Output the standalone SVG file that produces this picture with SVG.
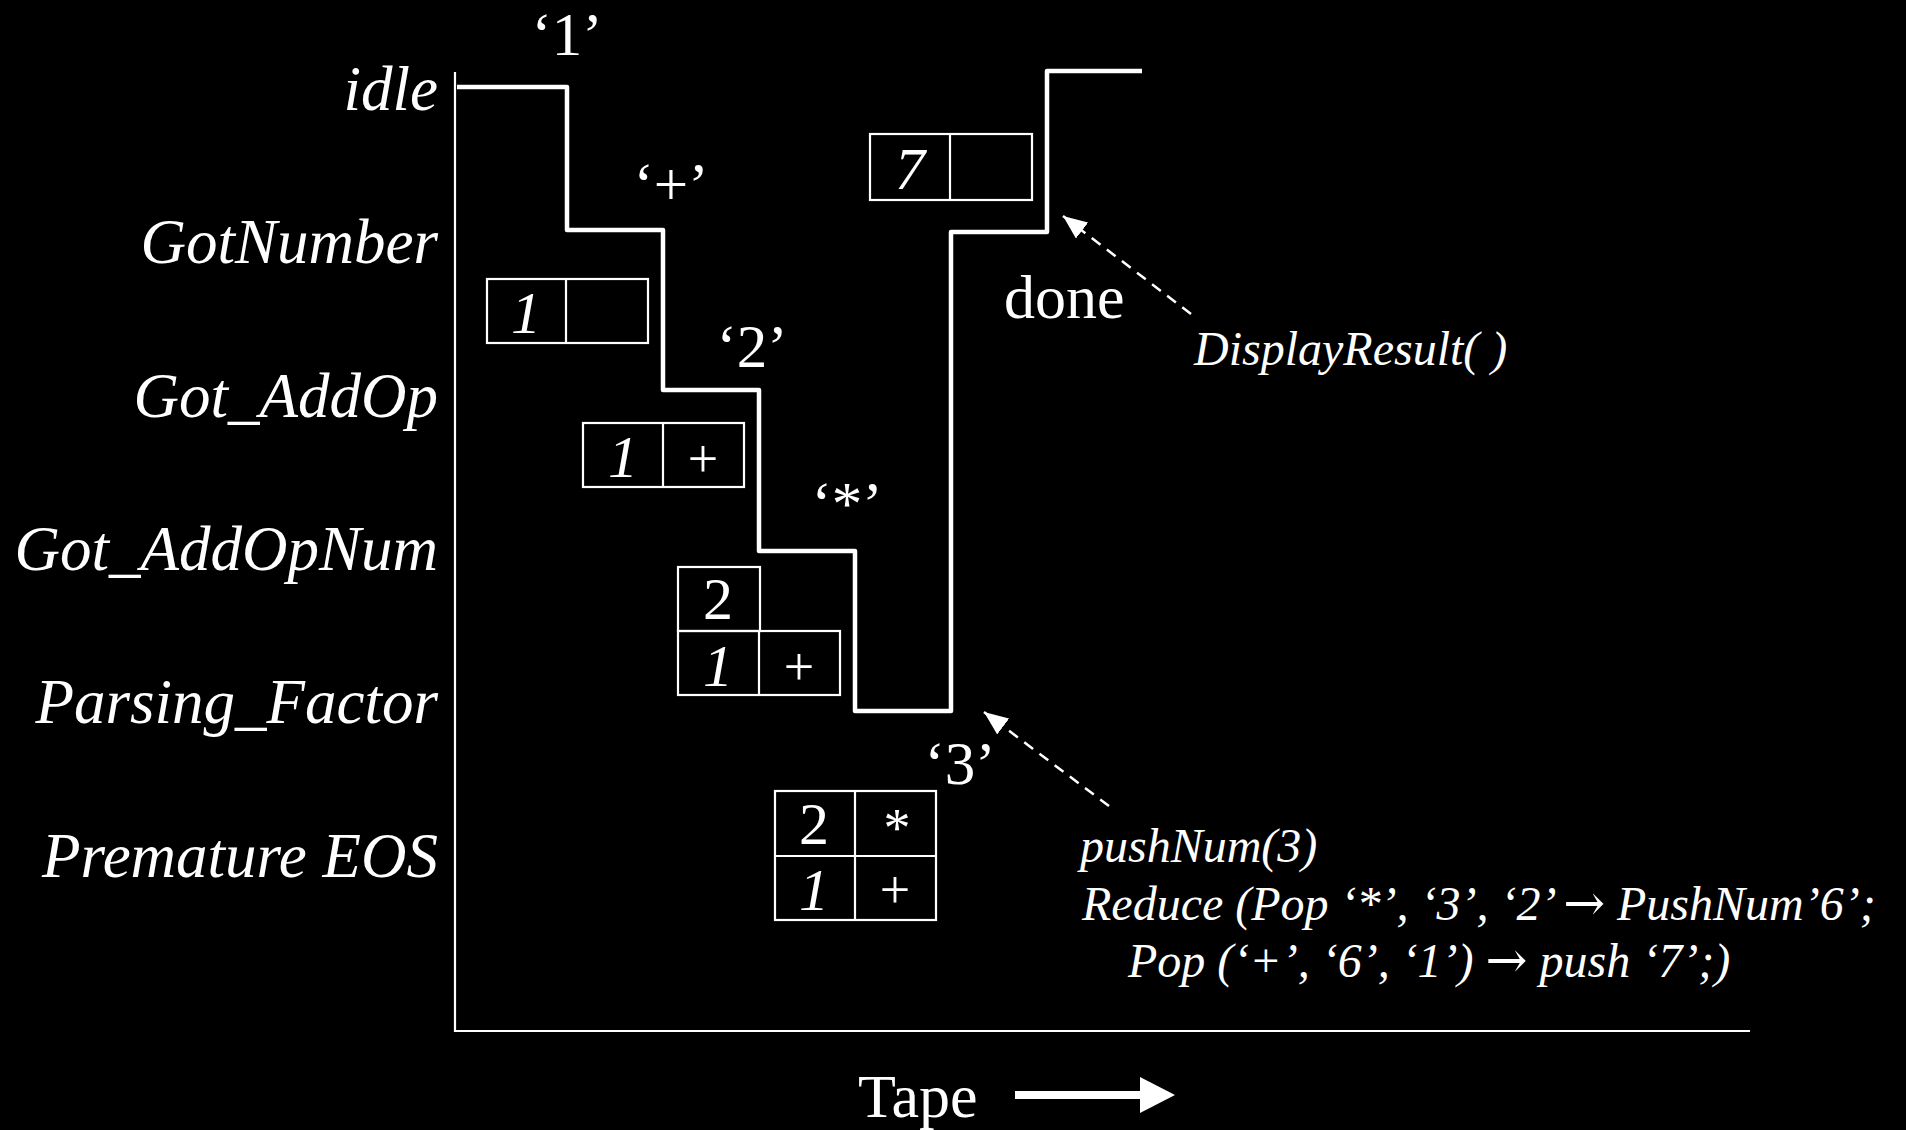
<svg xmlns="http://www.w3.org/2000/svg" width="1906" height="1130" viewBox="0 0 1906 1130">
<style>
text{font-family:"Liberation Serif","Times New Roman",serif;fill:#fff}
.st{font-style:italic;font-size:63px;text-anchor:end}
.q{font-size:61px;text-anchor:middle}
.cell{fill:none;stroke:#fff;stroke-width:2.2}
.ci{font-style:italic;font-size:60px;text-anchor:middle}
.cu{font-size:60px;text-anchor:middle}
.op{font-size:54px;text-anchor:middle}
.act{font-style:italic;font-size:48px}
.arr{font-style:normal;font-family:"DejaVu Serif",serif;font-size:50px}
.axis{stroke:#fff;stroke-width:2.2;fill:none}
.dash{stroke:#fff;stroke-width:2.5;stroke-dasharray:11 8;fill:none}
</style>
<defs>
<marker id="ah2" viewBox="0 0 24 20" refX="24" refY="10" markerWidth="24" markerHeight="20" markerUnits="userSpaceOnUse" orient="auto">
<path d="M0,0 L24,10 L0,20 z" fill="#fff"/>
</marker>
</defs>
<rect x="0" y="0" width="1906" height="1130" fill="#000"/>

<g id="axes">
<path class="axis" d="M455,72 V1031 H1750"/>
</g>

<g id="state-labels">
<text class="st" x="438" y="110">idle</text>
<text class="st" x="438" y="263">GotNumber</text>
<text class="st" x="438" y="417">Got_AddOp</text>
<text class="st" x="438" y="570">Got_AddOpNum</text>
<text class="st" x="438" y="723">Parsing_Factor</text>
<text class="st" x="438" y="877">Premature EOS</text>
</g>

<g id="state-trace">
<path d="M457,87 H567 V230 H663 V390 H759 V551 H855 V711 H951 V232 H1047 V71 H1142" fill="none" stroke="#fff" stroke-width="4.5" stroke-linejoin="round"/>
</g>

<g id="input-labels">
<text class="q" x="567" y="55">‘1’</text>
<text class="q" x="671" y="205">‘+’</text>
<text class="q" x="752" y="367">‘2’</text>
<text class="q" x="847" y="524">‘*’</text>
<text class="q" x="960" y="784">‘3’</text>
<text x="1004" y="318" font-size="62">done</text>
</g>

<g id="stack1">
<rect class="cell" x="487" y="279" width="161" height="64"/>
<line class="cell" x1="566" y1="279" x2="566" y2="343"/>
<text class="ci" x="526" y="333">1</text>
</g>

<g id="stack2">
<rect class="cell" x="583" y="423" width="161" height="64"/>
<line class="cell" x1="663" y1="423" x2="663" y2="487"/>
<text class="ci" x="623" y="477">1</text>
<text class="op" x="703" y="477">+</text>
</g>

<g id="stack3">
<rect class="cell" x="678" y="567" width="82" height="64"/>
<rect class="cell" x="678" y="631" width="162" height="64"/>
<line class="cell" x1="759" y1="631" x2="759" y2="695"/>
<text class="cu" x="718" y="619">2</text>
<text class="ci" x="718" y="686">1</text>
<text class="op" x="799" y="685">+</text>
</g>

<g id="stack4">
<rect class="cell" x="775" y="791" width="161" height="129"/>
<line class="cell" x1="775" y1="856" x2="936" y2="856"/>
<line class="cell" x1="855" y1="791" x2="855" y2="920"/>
<text class="cu" x="814" y="844">2</text>
<text class="op" x="897" y="846" font-size="50">*</text>
<text class="ci" x="814" y="910">1</text>
<text class="op" x="895" y="908">+</text>
</g>

<g id="stack5">
<rect class="cell" x="870" y="134" width="162" height="66"/>
<line class="cell" x1="950" y1="134" x2="950" y2="200"/>
<text class="ci" x="910" y="189">7</text>
</g>

<g id="connectors">
<line class="dash" x1="1191" y1="314" x2="1063" y2="216" marker-end="url(#ah2)"/>
<line class="dash" x1="1109" y1="806" x2="984" y2="712" marker-end="url(#ah2)"/>
</g>

<g id="actions">
<text class="act" x="1194" y="365" font-size="47">DisplayResult( )</text>
<text class="act" x="1080" y="862">pushNum(3)</text>
<text class="act" x="1082" y="920">Reduce (Pop ‘*’, ‘3’, ‘2’ <tspan class="arr">→</tspan> PushNum’6’;</text>
<text class="act" x="1128" y="977">Pop (‘+’, ‘6’, ‘1’) <tspan class="arr">→</tspan> push ‘7’;)</text>
</g>

<g id="tape">
<text x="858" y="1117" font-size="62">Tape</text>
<path d="M1015,1095 H1142" stroke="#fff" stroke-width="8" fill="none"/>
<path d="M1140,1077 L1175,1095 L1140,1113 z" fill="#fff"/>
</g>
</svg>
